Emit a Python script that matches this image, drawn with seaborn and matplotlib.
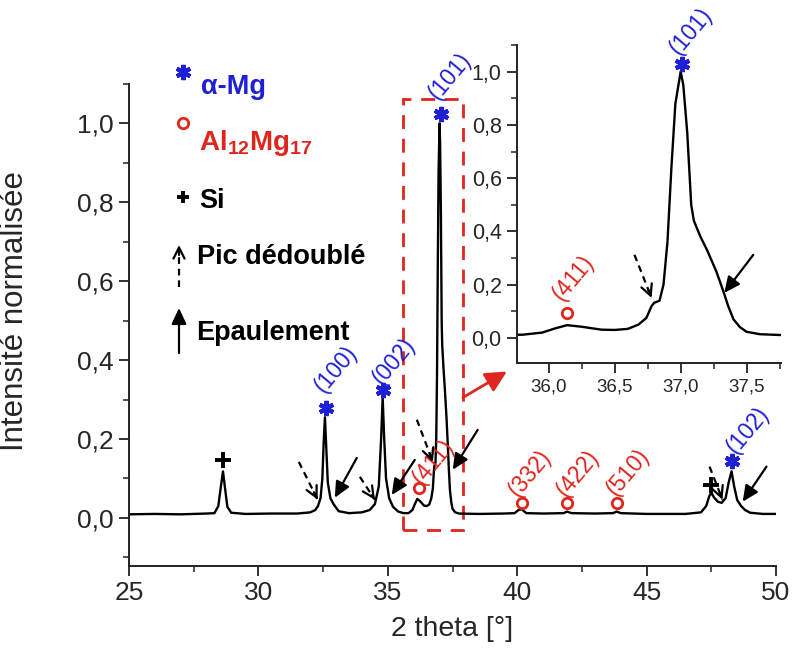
import numpy as np
import pandas as pd
import matplotlib
matplotlib.use("Agg")
import matplotlib.pyplot as plt
import seaborn as sns
from matplotlib.patches import Rectangle
from matplotlib.ticker import MultipleLocator, FixedLocator, FixedFormatter

# XRD pattern (2 theta in degrees, normalised intensity)
two_theta = [25.0, 26.0, 27.0, 28.0, 28.3, 28.45, 28.55, 28.63, 28.71, 28.8, 28.95,
             29.5, 30.5, 31.5, 32.0, 32.2, 32.3, 32.4, 32.47, 32.52, 32.57, 32.62,
             32.68, 32.78, 32.9, 33.1, 33.5, 34.0, 34.3, 34.5, 34.65, 34.74, 34.8,
             34.86, 34.93, 35.05, 35.2, 35.4, 35.6, 35.8, 35.95, 36.05, 36.14, 36.25,
             36.4, 36.5, 36.6, 36.68, 36.74, 36.78, 36.8, 36.84, 36.87, 36.9, 36.93,
             36.96, 37.0, 37.02, 37.05, 37.08, 37.1, 37.15, 37.2, 37.27, 37.32, 37.36,
             37.4, 37.45, 37.5, 37.6, 37.75, 38.5, 39.5, 39.9, 40.05, 40.17, 40.35,
             41.0, 41.8, 41.92, 42.1, 43.0, 43.7, 43.84, 44.0, 45.0, 46.5, 47.1, 47.3,
             47.42, 47.5, 47.6, 47.75, 47.9, 48.05, 48.17, 48.28, 48.38, 48.5, 48.65,
             48.8, 49.0, 49.5, 50.0]
intensity = [0.009, 0.010, 0.009, 0.011, 0.012, 0.030, 0.080, 0.118, 0.075, 0.028, 0.013,
             0.010, 0.011, 0.011, 0.014, 0.020, 0.030, 0.050, 0.100, 0.190, 0.255, 0.180,
             0.090, 0.050, 0.035, 0.017, 0.012, 0.014, 0.020, 0.035, 0.080, 0.200, 0.305,
             0.200, 0.100, 0.050, 0.028, 0.016, 0.012, 0.012, 0.020, 0.036, 0.048, 0.042,
             0.031, 0.030, 0.034, 0.050, 0.075, 0.120, 0.132, 0.140, 0.200, 0.360, 0.640,
             0.880, 1.000, 0.950, 0.770, 0.500, 0.440, 0.380, 0.330, 0.250, 0.180, 0.120,
             0.070, 0.040, 0.023, 0.014, 0.011, 0.010, 0.011, 0.012, 0.020, 0.022, 0.012,
             0.011, 0.012, 0.016, 0.012, 0.011, 0.012, 0.016, 0.012, 0.010, 0.010, 0.014, 0.030,
             0.055, 0.064, 0.052, 0.041, 0.038, 0.050, 0.090, 0.118, 0.080, 0.045, 0.030,
             0.020, 0.013, 0.010, 0.010]

# alpha-Mg peaks
mg_x = [32.6, 34.81, 37.05, 48.28]
mg_y = [0.279, 0.325, 1.023, 0.145]
mg_hkl = ["(100)", "(002)", "(101)", "(102)"]
mg_lab_x = [32.99, 35.23, 37.39, 48.9]
mg_lab_y = [0.376, 0.396, 1.12, 0.223]

# Al12Mg17 peaks
al_x = [36.2, 40.17, 41.91, 43.84]
al_y = [0.076, 0.038, 0.038, 0.038]
al_hkl = ["(411)", "(332)", "(422)", "(510)"]
al_lab_x = [36.74, 40.48, 42.34, 44.27]
al_lab_y = [0.142, 0.112, 0.114, 0.117]

# Si peaks
si_x = [28.63, 47.5]
si_y = [0.147, 0.084]

# arrows (start, end) in data units
split_arrows = [((31.56, 0.142), (32.29, 0.046)), ((33.92, 0.104), (34.50, 0.046)),
                ((36.12, 0.249), (36.74, 0.142)), ((47.43, 0.130), (47.93, 0.046))]
shoulder_arrows = [((33.80, 0.152), (32.95, 0.051)), ((36.04, 0.147), (35.15, 0.058)),
                   ((38.47, 0.223), (37.51, 0.122)), ((49.63, 0.130), (48.71, 0.041))]

# inset (zoom on the (101) peak)
in_mg_x, in_mg_y, in_mg_lab = [37.01], [1.03], [(37.08, 1.15)]
in_al_x, in_al_y, in_al_lab = [36.14], [0.094], [(36.19, 0.226)]
in_split = [((36.65, 0.312), (36.78, 0.15))]
in_shoulder = [((37.55, 0.312), (37.33, 0.169))]

BLUE = "#1f1fd6"
RED = "#e0251e"

sns.set_style("ticks")
plt.rcParams["font.family"] = ["Liberation Sans", "DejaVu Sans"]
plt.rcParams["mathtext.fontset"] = "custom"
plt.rcParams["mathtext.rm"] = "Liberation Sans"
plt.rcParams["mathtext.bf"] = "Liberation Sans:bold"

df = pd.DataFrame({"two_theta": two_theta, "intensity": intensity})

fig = plt.figure(figsize=(7.94, 6.52), dpi=100)
ax = fig.add_axes([0.1625, 0.1319, 0.8149, 0.7393])
sns.lineplot(data=df, x="two_theta", y="intensity", ax=ax, color="black", lw=1.7)


def style_axes(a, xsize, ysize):
    for s in ["top", "right"]:
        a.spines[s].set_visible(False)
    for s in ["left", "bottom"]:
        a.spines[s].set_linewidth(1.4)
        a.spines[s].set_color("#222222")
    a.tick_params(which="major", direction="out", length=7, width=1.3, color="#222222")
    a.tick_params(which="minor", direction="out", length=4, width=1.1, color="#222222")
    a.tick_params(axis="x", labelsize=xsize, pad=4)
    a.tick_params(axis="y", labelsize=ysize, pad=4)


def comma(vals, fmt):
    return [format(v, fmt).replace(".", ",") for v in vals]


def markers(a, x, y, kind, scale=1.0):
    if kind == "mg":
        a.plot(x, y, ls="none", marker=(6, 2, 0), ms=11 * scale, mew=3.0,
               color=BLUE, clip_on=False)
    elif kind == "al":
        a.plot(x, y, ls="none", marker="o", ms=7.5 * scale, mew=2.0, mfc="none",
               mec=RED, clip_on=False)
    else:
        a.plot(x, y, ls="none", marker="+", ms=11 * scale, mew=2.8,
               color="black", clip_on=False)


def arrows(a, pairs, dashed, lw=1.6):
    for (x0, y0), (x1, y1) in pairs:
        if dashed:
            a.plot([x0, x1], [y0, y1], ls=(0, (3, 2.2)), lw=lw, color="black")
            a.annotate("", xy=(x1, y1), xytext=(x1 - 0.2 * (x1 - x0), y1 - 0.2 * (y1 - y0)),
                       arrowprops=dict(arrowstyle="->,head_length=0.5,head_width=0.25",
                                       lw=lw, color="black", shrinkA=0, shrinkB=0,
                                       mutation_scale=16))
        else:
            a.annotate("", xy=(x1, y1), xytext=(x0, y0),
                       arrowprops=dict(arrowstyle="-|>,head_length=0.6,head_width=0.28",
                                       lw=lw, color="black", shrinkA=0, shrinkB=0,
                                       mutation_scale=16))


# main axes
ax.set_xlim(25, 50)
ax.set_ylim(-0.122, 1.10)
ax.xaxis.set_major_locator(FixedLocator([25, 30, 35, 40, 45, 50]))
ax.xaxis.set_minor_locator(MultipleLocator(2.5))
yt = [0.0, 0.2, 0.4, 0.6, 0.8, 1.0]
ax.yaxis.set_major_locator(FixedLocator(yt))
ax.yaxis.set_major_formatter(FixedFormatter(comma(yt, ".1f")))
ax.yaxis.set_minor_locator(MultipleLocator(0.1))
style_axes(ax, 19, 19)
ax.set_xlabel("2 theta [°]", fontsize=20.5, labelpad=8)
ax.set_ylabel("Intensité normalisée", fontsize=22.5)
ax.yaxis.set_label_coords(-0.153, 0.53)

markers(ax, mg_x, mg_y, "mg")
markers(ax, al_x, al_y, "al")
markers(ax, si_x, si_y, "si")
for x, y, t in zip(mg_lab_x, mg_lab_y, mg_hkl):
    ax.text(x, y, t, color=BLUE, fontsize=16.5, rotation=50, ha="center", va="center",
            rotation_mode="anchor")
for x, y, t in zip(al_lab_x, al_lab_y, al_hkl):
    ax.text(x, y, t, color=RED, fontsize=16.5, rotation=50, ha="center", va="center",
            rotation_mode="anchor")
arrows(ax, split_arrows, dashed=True)
arrows(ax, shoulder_arrows, dashed=False)

# zoom frame and pointer to the inset
ax.add_patch(Rectangle((35.58, -0.03), 37.90 - 35.58, 1.061 + 0.03, fill=False,
                       ec=RED, lw=2.0, ls=(0, (5, 3.5)), clip_on=False))
ax.annotate("", xy=(39.6, 0.371), xytext=(37.9, 0.305),
            arrowprops=dict(arrowstyle="-|>,head_length=0.8,head_width=0.4",
                            lw=2.0, color=RED, shrinkA=0, shrinkB=0, mutation_scale=16))

# legend drawn by hand (pixel positions of the reference)
def fx(px):
    return px / 794


def fy(py):
    return 1 - py / 652


leg = fig.add_axes([0, 0, 1, 1], facecolor="none")
leg.set_xlim(0, 1)
leg.set_ylim(0, 1)
leg.axis("off")
markers(leg, [fx(183)], [fy(72)], "mg")
markers(leg, [fx(183)], [fy(123)], "al")
markers(leg, [fx(183)], [fy(197)], "si", scale=0.85)
leg.plot([fx(179), fx(179)], [fy(287), fy(252)], ls=(0, (3, 2.2)), lw=1.6, color="black")
leg.annotate("", xy=(fx(179), fy(245)), xytext=(fx(179), fy(255)),
             arrowprops=dict(arrowstyle="->,head_length=0.5,head_width=0.25", lw=1.6,
                             color="black", shrinkA=0, shrinkB=0, mutation_scale=16))
leg.annotate("", xy=(fx(179), fy(308)), xytext=(fx(179), fy(353)),
             arrowprops=dict(arrowstyle="-|>,head_length=0.6,head_width=0.28", lw=1.6,
                             color="black", shrinkA=0, shrinkB=0, mutation_scale=16))
leg.text(fx(201), fy(94), "α-Mg", color=BLUE, fontsize=19.5, fontweight="bold", va="baseline")
leg.text(fx(199), fy(150), r"$\mathbf{Al_{12}Mg_{17}}$", color=RED, fontsize=20, va="baseline")
leg.text(fx(199), fy(208), "Si", color="black", fontsize=19.5, fontweight="bold", va="baseline")
leg.text(fx(197), fy(264), "Pic dédoublé", color="black", fontsize=19.5, fontweight="bold",
         va="baseline")
leg.text(fx(196), fy(340), "Epaulement", color="black", fontsize=19.5, fontweight="bold",
         va="baseline")

# inset
axi = fig.add_axes([0.6511, 0.4433, 0.3325, 0.4877])
axi.set_facecolor("white")
sns.lineplot(data=df, x="two_theta", y="intensity", ax=axi, color="black", lw=1.7)
axi.set_xlim(35.76, 37.76)
axi.set_ylim(-0.094, 1.10)
xt = [36.0, 36.5, 37.0, 37.5]
axi.xaxis.set_major_locator(FixedLocator(xt))
axi.xaxis.set_major_formatter(FixedFormatter(comma(xt, ".1f")))
axi.xaxis.set_minor_locator(MultipleLocator(0.25))
axi.yaxis.set_major_locator(FixedLocator(yt))
axi.yaxis.set_major_formatter(FixedFormatter(comma(yt, ".1f")))
axi.yaxis.set_minor_locator(MultipleLocator(0.1))
style_axes(axi, 13.5, 15.5)
axi.set_xlabel("")
axi.set_ylabel("")
markers(axi, in_mg_x, in_mg_y, "mg")
markers(axi, in_al_x, in_al_y, "al")
axi.text(in_mg_lab[0][0], in_mg_lab[0][1], "(101)", color=BLUE, fontsize=16.5, rotation=50,
         ha="center", va="center", rotation_mode="anchor")
axi.text(in_al_lab[0][0], in_al_lab[0][1], "(411)", color=RED, fontsize=16.5, rotation=50,
         ha="center", va="center", rotation_mode="anchor")
arrows(axi, in_split, dashed=True)
arrows(axi, in_shoulder, dashed=False)

fig.savefig("out.png", dpi=100)
